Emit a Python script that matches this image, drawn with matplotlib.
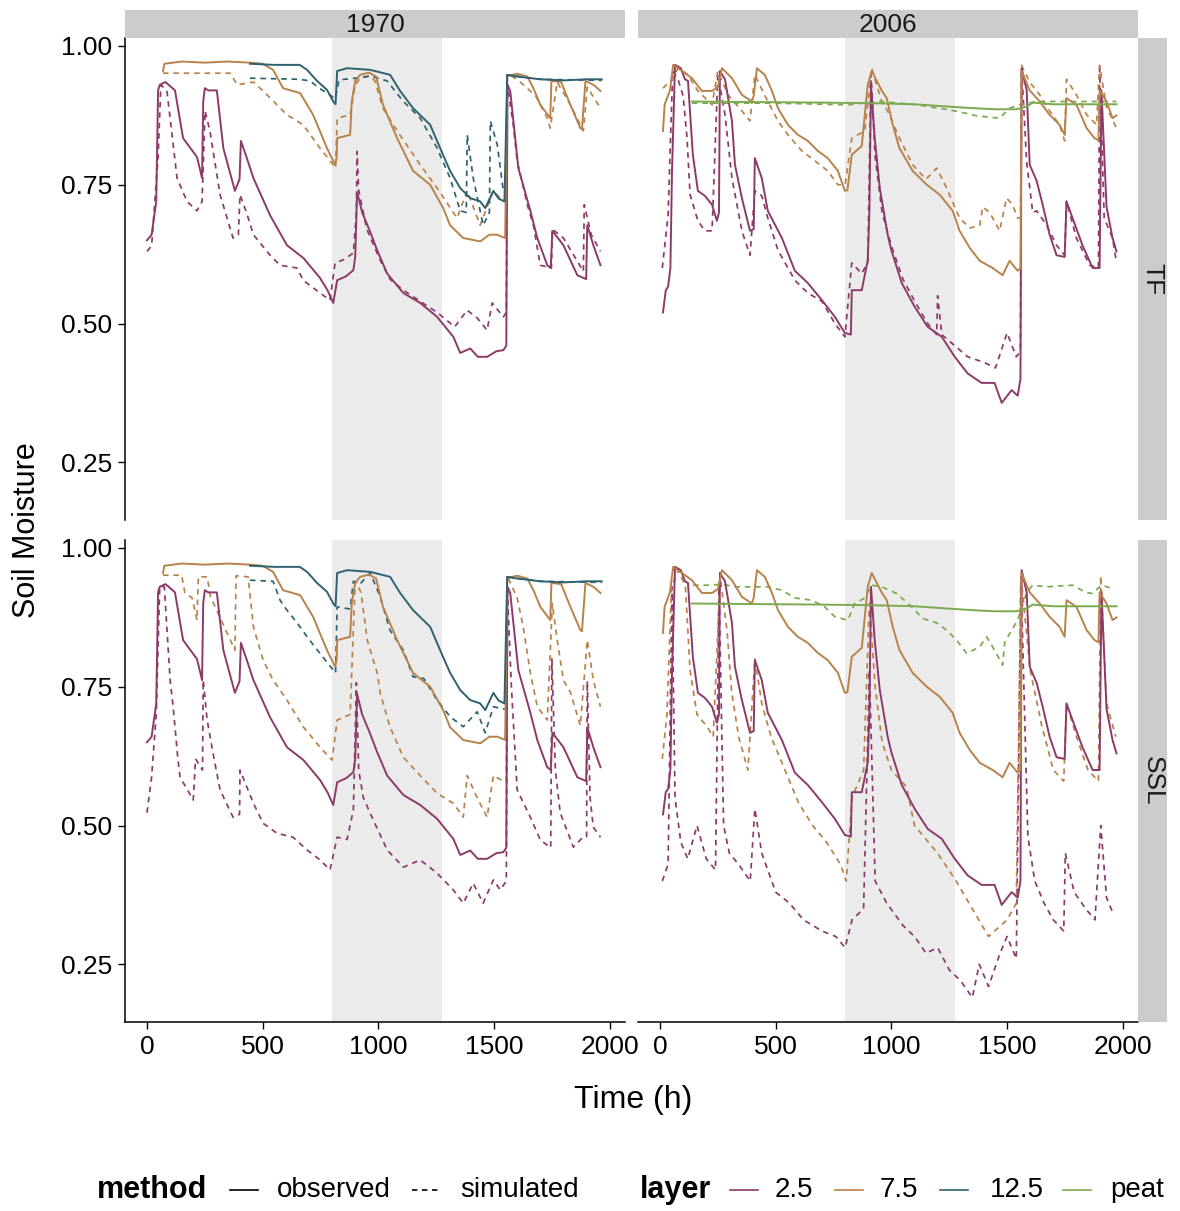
import matplotlib
matplotlib.use('Agg')
import matplotlib.pyplot as plt
from matplotlib.lines import Line2D

plt.rcParams['font.family'] = ['Liberation Sans', 'DejaVu Sans']

# ---- data: (hour, soil moisture) ----
years = ['1970', '2006']
sites = ['TF', 'SSL']
layers = ['2.5', '7.5', '12.5', 'peat']
xticks = [0, 500, 1000, 1500, 2000]
yticks = [0.25, 0.50, 0.75, 1.00]
ytick_labels = ['0.25', '0.50', '0.75', '1.00']
shade_period = (800, 1275)

# observed, 1970 (same in both sites)
obs70_25 = [(0, 0.65), (20, 0.66), (40, 0.72), (48, 0.92), (55, 0.93), (80, 0.935), (121, 0.92),
            (156, 0.834), (216, 0.80), (238, 0.762), (243, 0.90), (250, 0.924), (265, 0.92),
            (302, 0.92), (330, 0.816), (380, 0.739), (400, 0.76), (406, 0.829), (430, 0.80),
            (460, 0.762), (532, 0.695), (605, 0.641), (676, 0.618), (748, 0.582), (780, 0.56),
            (805, 0.537), (822, 0.578), (860, 0.585), (892, 0.596), (900, 0.62), (908, 0.737),
            (930, 0.70), (960, 0.67), (995, 0.632), (1038, 0.59), (1108, 0.555), (1181, 0.537),
            (1254, 0.512), (1324, 0.476), (1354, 0.447), (1397, 0.455), (1430, 0.44), (1470, 0.44),
            (1510, 0.45), (1540, 0.452), (1553, 0.46), (1558, 0.93), (1570, 0.919), (1605, 0.78),
            (1657, 0.703), (1687, 0.654), (1730, 0.605), (1745, 0.60), (1752, 0.667), (1800, 0.641),
            (1860, 0.587), (1898, 0.58), (1903, 0.677), (1930, 0.64), (1960, 0.605)]
obs70_75 = [(69, 0.955), (75, 0.968), (150, 0.972), (250, 0.970), (350, 0.972), (445, 0.970),
            (500, 0.968), (545, 0.957), (588, 0.924), (662, 0.915), (718, 0.876), (778, 0.816),
            (813, 0.786), (820, 0.80), (822, 0.834), (878, 0.84), (885, 0.90), (900, 0.937),
            (921, 0.948), (960, 0.952), (990, 0.945), (1020, 0.894), (1081, 0.834), (1150, 0.775),
            (1224, 0.75), (1280, 0.708), (1310, 0.677), (1367, 0.654), (1440, 0.648), (1480, 0.66),
            (1514, 0.66), (1548, 0.654), (1557, 0.946), (1600, 0.95), (1644, 0.945), (1670, 0.924),
            (1700, 0.894), (1743, 0.87), (1748, 0.937), (1790, 0.935), (1830, 0.894), (1873, 0.852),
            (1880, 0.85), (1895, 0.937), (1930, 0.93), (1960, 0.919)]
obs70_125 = [(445, 0.968), (550, 0.966), (660, 0.966), (692, 0.957), (735, 0.937), (778, 0.921),
             (805, 0.90), (815, 0.895), (822, 0.955), (865, 0.96), (965, 0.957), (1051, 0.948),
             (1094, 0.919), (1150, 0.888), (1224, 0.858), (1267, 0.816), (1310, 0.775), (1354, 0.744),
             (1397, 0.726), (1440, 0.72), (1462, 0.708), (1497, 0.739), (1520, 0.725), (1545, 0.72),
             (1557, 0.948), (1600, 0.945), (1700, 0.94), (1800, 0.938), (1900, 0.94), (1965, 0.94)]

# observed, 2006
obs06_25 = [(13, 0.52), (25, 0.56), (35, 0.566), (45, 0.60), (52, 0.775), (65, 0.966), (90, 0.96),
            (108, 0.94), (121, 0.937), (142, 0.804), (164, 0.739), (194, 0.73), (225, 0.714),
            (246, 0.685), (255, 0.70), (259, 0.955), (281, 0.94), (311, 0.865), (324, 0.786),
            (354, 0.726), (389, 0.667), (405, 0.67), (410, 0.798), (440, 0.762), (466, 0.703),
            (527, 0.654), (583, 0.595), (639, 0.573), (700, 0.542), (756, 0.512), (799, 0.483),
            (825, 0.48), (829, 0.56), (872, 0.56), (898, 0.614), (905, 0.70), (912, 0.93),
            (928, 0.834), (950, 0.744), (984, 0.66), (1000, 0.632), (1045, 0.573), (1101, 0.53),
            (1157, 0.494), (1218, 0.476), (1274, 0.44), (1330, 0.41), (1390, 0.393), (1446, 0.393),
            (1477, 0.357), (1520, 0.38), (1546, 0.37), (1558, 0.40), (1563, 0.96), (1585, 0.92),
            (1598, 0.786), (1628, 0.757), (1654, 0.714), (1684, 0.66), (1714, 0.623), (1749, 0.62),
            (1757, 0.72), (1783, 0.69), (1826, 0.641), (1870, 0.60), (1900, 0.60), (1908, 0.92),
            (1930, 0.71), (1956, 0.654), (1973, 0.63)]
obs06_75 = [(13, 0.847), (20, 0.894), (43, 0.92), (57, 0.966), (95, 0.955), (138, 0.942),
            (181, 0.919), (225, 0.919), (250, 0.926), (268, 0.96), (311, 0.942), (354, 0.912),
            (397, 0.90), (405, 0.91), (419, 0.96), (453, 0.948), (484, 0.919), (510, 0.888),
            (553, 0.858), (596, 0.84), (639, 0.829), (682, 0.811), (725, 0.798), (769, 0.775),
            (799, 0.739), (810, 0.74), (829, 0.804), (872, 0.82), (898, 0.93), (915, 0.955),
            (958, 0.92), (980, 0.906), (1006, 0.858), (1035, 0.816), (1092, 0.775), (1153, 0.75),
            (1209, 0.732), (1265, 0.703), (1295, 0.667), (1339, 0.636), (1382, 0.613), (1438, 0.60),
            (1481, 0.587), (1511, 0.613), (1546, 0.595), (1558, 0.60), (1563, 0.955), (1598, 0.92),
            (1641, 0.90), (1684, 0.876), (1727, 0.858), (1749, 0.84), (1757, 0.906), (1800, 0.894),
            (1844, 0.852), (1878, 0.834), (1895, 0.83), (1900, 0.92), (1930, 0.90), (1956, 0.87),
            (1973, 0.875)]
obs06_peat = [(138, 0.90), (400, 0.899), (700, 0.898), (907, 0.897), (1100, 0.895), (1239, 0.891),
              (1352, 0.888), (1450, 0.886), (1541, 0.886), (1585, 0.891), (1611, 0.898), (1700, 0.895),
              (1973, 0.895)]

# simulated, 1970 TF
sim70_tf_25 = [(0, 0.63), (20, 0.64), (48, 0.80), (60, 0.93), (86, 0.92), (100, 0.87), (130, 0.762),
               (173, 0.72), (216, 0.703), (238, 0.72), (251, 0.883), (272, 0.847), (316, 0.732),
               (372, 0.654), (395, 0.66), (402, 0.732), (430, 0.70), (460, 0.66), (532, 0.623),
               (575, 0.605), (649, 0.60), (675, 0.578), (748, 0.555), (791, 0.542), (813, 0.609),
               (850, 0.615), (892, 0.627), (905, 0.70), (908, 0.81), (915, 0.74), (950, 0.67),
               (1008, 0.614), (1050, 0.58), (1108, 0.56), (1181, 0.54), (1254, 0.52), (1330, 0.494),
               (1384, 0.524), (1427, 0.51), (1470, 0.488), (1492, 0.537), (1540, 0.512), (1553, 0.52),
               (1558, 0.93), (1583, 0.858), (1600, 0.793), (1644, 0.714), (1670, 0.677), (1700, 0.605),
               (1748, 0.60), (1752, 0.67), (1800, 0.654), (1886, 0.594), (1890, 0.714), (1920, 0.66),
               (1960, 0.63)]
sim70_tf_75 = [(69, 0.951), (200, 0.951), (360, 0.951), (390, 0.93), (460, 0.935), (502, 0.919),
               (562, 0.894), (605, 0.876), (675, 0.858), (748, 0.816), (805, 0.786), (815, 0.78),
               (822, 0.87), (878, 0.876), (900, 0.93), (921, 0.942), (965, 0.946), (985, 0.937),
               (1020, 0.888), (1081, 0.847), (1181, 0.786), (1254, 0.744), (1340, 0.69), (1384, 0.739),
               (1440, 0.677), (1497, 0.739), (1540, 0.72), (1553, 0.72), (1557, 0.95), (1600, 0.94),
               (1680, 0.91), (1730, 0.87), (1743, 0.852), (1773, 0.935), (1830, 0.894), (1886, 0.847),
               (1903, 0.926), (1960, 0.888)]
sim70_tf_125 = [(445, 0.942), (660, 0.94), (705, 0.937), (748, 0.923), (791, 0.912), (813, 0.904),
                (830, 0.939), (900, 0.942), (965, 0.946), (1038, 0.937), (1108, 0.90), (1181, 0.87),
                (1254, 0.816), (1310, 0.762), (1354, 0.703), (1380, 0.70), (1384, 0.84), (1410, 0.762),
                (1453, 0.677), (1480, 0.70), (1484, 0.865), (1514, 0.822), (1540, 0.739), (1553, 0.74),
                (1557, 0.948), (1700, 0.94), (1965, 0.938)]

# simulated, 1970 SSL
sim70_ssl_25 = [(0, 0.523), (20, 0.587), (40, 0.70), (55, 0.93), (75, 0.93), (100, 0.762),
                (113, 0.714), (134, 0.618), (143, 0.587), (200, 0.546), (210, 0.62), (240, 0.60),
                (243, 0.762), (260, 0.69), (290, 0.62), (316, 0.564), (372, 0.515), (400, 0.52),
                (402, 0.60), (460, 0.54), (502, 0.504), (562, 0.486), (631, 0.479), (692, 0.456),
                (748, 0.438), (791, 0.42), (822, 0.479), (865, 0.475), (892, 0.528), (905, 0.757),
                (915, 0.60), (935, 0.55), (978, 0.51), (1038, 0.456), (1108, 0.425), (1181, 0.438),
                (1254, 0.414), (1324, 0.384), (1367, 0.36), (1410, 0.396), (1453, 0.36), (1497, 0.402),
                (1527, 0.384), (1553, 0.40), (1558, 0.92), (1575, 0.75), (1600, 0.564), (1657, 0.515),
                (1700, 0.474), (1745, 0.46), (1750, 0.80), (1765, 0.60), (1786, 0.523), (1843, 0.461),
                (1886, 0.48), (1900, 0.48), (1903, 0.76), (1915, 0.55), (1929, 0.497), (1960, 0.479)]
sim70_ssl_75 = [(69, 0.951), (150, 0.951), (164, 0.919), (195, 0.91), (216, 0.87), (222, 0.948),
                (260, 0.948), (275, 0.912), (346, 0.847), (380, 0.816), (385, 0.95), (437, 0.948),
                (460, 0.858), (502, 0.798), (545, 0.762), (605, 0.726), (675, 0.678), (748, 0.641),
                (800, 0.618), (822, 0.69), (878, 0.70), (900, 0.94), (925, 0.92), (952, 0.834),
                (995, 0.775), (1008, 0.739), (1050, 0.678), (1108, 0.623), (1181, 0.59), (1254, 0.558),
                (1324, 0.54), (1367, 0.515), (1384, 0.59), (1427, 0.55), (1470, 0.515), (1497, 0.59),
                (1540, 0.58), (1553, 0.58), (1557, 0.95), (1600, 0.91), (1626, 0.858), (1657, 0.775),
                (1687, 0.714), (1730, 0.69), (1752, 0.90), (1773, 0.834), (1800, 0.762), (1830, 0.74),
                (1873, 0.68), (1903, 0.834), (1929, 0.762), (1960, 0.714)]
sim70_ssl_125 = [(445, 0.942), (545, 0.94), (575, 0.906), (605, 0.888), (649, 0.865), (692, 0.84),
                 (748, 0.81), (805, 0.78), (815, 0.775), (822, 0.894), (878, 0.89), (892, 0.94),
                 (920, 0.935), (965, 0.955), (1008, 0.912), (1050, 0.852), (1108, 0.816), (1150, 0.768),
                 (1196, 0.765), (1254, 0.726), (1310, 0.696), (1367, 0.678), (1427, 0.705), (1462, 0.667),
                 (1497, 0.714), (1540, 0.71), (1553, 0.71), (1557, 0.948), (1700, 0.94), (1965, 0.938)]

# simulated, 2006 TF
sim06_tf_25 = [(10, 0.60), (35, 0.695), (55, 0.955), (78, 0.94), (100, 0.91), (117, 0.834),
               (130, 0.732), (164, 0.685), (194, 0.667), (225, 0.667), (250, 0.948), (281, 0.876),
               (311, 0.762), (354, 0.667), (389, 0.623), (410, 0.739), (440, 0.73), (466, 0.69),
               (510, 0.632), (583, 0.578), (639, 0.555), (700, 0.54), (756, 0.50), (799, 0.476),
               (829, 0.609), (872, 0.59), (898, 0.61), (912, 0.95), (930, 0.80), (960, 0.70),
               (1000, 0.64), (1050, 0.58), (1101, 0.54), (1157, 0.50), (1196, 0.48), (1200, 0.55),
               (1218, 0.48), (1274, 0.46), (1330, 0.44), (1400, 0.43), (1450, 0.42), (1500, 0.483),
               (1540, 0.44), (1558, 0.45), (1563, 0.96), (1585, 0.79), (1611, 0.70), (1628, 0.703),
               (1671, 0.677), (1714, 0.641), (1749, 0.623), (1757, 0.72), (1800, 0.654), (1857, 0.605),
               (1895, 0.60), (1900, 0.96), (1920, 0.69), (1956, 0.654), (1973, 0.61)]
sim06_tf_75 = [(13, 0.924), (52, 0.94), (78, 0.96), (121, 0.948), (164, 0.919), (225, 0.894),
               (250, 0.955), (294, 0.912), (354, 0.883), (389, 0.865), (410, 0.948), (466, 0.90),
               (510, 0.865), (553, 0.84), (613, 0.811), (670, 0.793), (725, 0.775), (769, 0.75),
               (800, 0.75), (829, 0.834), (885, 0.847), (915, 0.96), (958, 0.90), (984, 0.883),
               (1035, 0.834), (1092, 0.786), (1150, 0.76), (1196, 0.78), (1239, 0.744), (1295, 0.69),
               (1339, 0.672), (1382, 0.677), (1395, 0.71), (1425, 0.70), (1468, 0.667), (1498, 0.726),
               (1524, 0.714), (1546, 0.69), (1558, 0.69), (1563, 0.965), (1598, 0.935), (1641, 0.912),
               (1684, 0.883), (1727, 0.858), (1749, 0.829), (1757, 0.94), (1800, 0.912), (1844, 0.876),
               (1887, 0.858), (1900, 0.965), (1930, 0.89), (1973, 0.852)]
sim06_tf_peat = [(138, 0.897), (500, 0.897), (812, 0.894), (950, 0.90), (1092, 0.895), (1239, 0.886),
                 (1308, 0.88), (1369, 0.874), (1468, 0.87), (1511, 0.888), (1555, 0.894), (1628, 0.90),
                 (1973, 0.90)]

# simulated, 2006 SSL
sim06_ssl_25 = [(10, 0.40), (35, 0.43), (52, 0.93), (65, 0.55), (90, 0.47), (120, 0.44), (160, 0.50),
                (200, 0.44), (240, 0.42), (255, 0.93), (275, 0.50), (300, 0.45), (340, 0.43),
                (390, 0.40), (410, 0.53), (440, 0.45), (500, 0.38), (560, 0.36), (620, 0.33),
                (700, 0.31), (760, 0.30), (800, 0.28), (830, 0.33), (880, 0.35), (905, 0.78),
                (930, 0.40), (980, 0.36), (1050, 0.32), (1100, 0.30), (1150, 0.27), (1200, 0.28),
                (1250, 0.24), (1300, 0.22), (1350, 0.19), (1380, 0.25), (1420, 0.21), (1470, 0.27),
                (1500, 0.30), (1540, 0.26), (1560, 0.95), (1590, 0.48), (1620, 0.40), (1660, 0.36),
                (1700, 0.33), (1745, 0.31), (1752, 0.45), (1790, 0.38), (1840, 0.35), (1880, 0.33),
                (1905, 0.50), (1930, 0.37), (1960, 0.34)]
sim06_ssl_75 = [(10, 0.62), (30, 0.70), (50, 0.93), (80, 0.96), (110, 0.93), (130, 0.78), (160, 0.70),
                (200, 0.68), (230, 0.66), (245, 0.80), (260, 0.95), (290, 0.85), (310, 0.74),
                (340, 0.66), (380, 0.60), (410, 0.80), (440, 0.72), (480, 0.66), (540, 0.60),
                (600, 0.54), (660, 0.50), (720, 0.47), (780, 0.43), (805, 0.40), (830, 0.55),
                (880, 0.60), (905, 0.90), (930, 0.75), (960, 0.65), (1000, 0.60), (1065, 0.57),
                (1100, 0.50), (1200, 0.45), (1280, 0.40), (1350, 0.35), (1420, 0.30), (1500, 0.33),
                (1540, 0.36), (1560, 0.95), (1600, 0.78), (1650, 0.68), (1700, 0.60), (1745, 0.58),
                (1757, 0.72), (1800, 0.66), (1850, 0.60), (1895, 0.58), (1905, 0.95), (1930, 0.72),
                (1970, 0.66)]
sim06_ssl_peat = [(143, 0.933), (225, 0.933), (268, 0.935), (324, 0.93), (397, 0.93), (466, 0.93),
                  (527, 0.924), (583, 0.91), (656, 0.906), (712, 0.894), (756, 0.876), (812, 0.87),
                  (842, 0.90), (885, 0.91), (915, 0.933), (958, 0.93), (1023, 0.918), (1080, 0.897),
                  (1136, 0.873), (1196, 0.865), (1239, 0.852), (1282, 0.834), (1326, 0.81),
                  (1382, 0.822), (1412, 0.84), (1446, 0.816), (1481, 0.789), (1490, 0.83),
                  (1520, 0.852), (1546, 0.87), (1585, 0.92), (1611, 0.933), (1671, 0.93),
                  (1783, 0.933), (1840, 0.92), (1870, 0.918), (1908, 0.933), (1956, 0.927)]

observed = {
    '1970': {'2.5': obs70_25, '7.5': obs70_75, '12.5': obs70_125},
    '2006': {'2.5': obs06_25, '7.5': obs06_75, 'peat': obs06_peat},
}
simulated = {
    ('TF', '1970'): {'2.5': sim70_tf_25, '7.5': sim70_tf_75, '12.5': sim70_tf_125},
    ('SSL', '1970'): {'2.5': sim70_ssl_25, '7.5': sim70_ssl_75, '12.5': sim70_ssl_125},
    ('TF', '2006'): {'2.5': sim06_tf_25, '7.5': sim06_tf_75, 'peat': sim06_tf_peat},
    ('SSL', '2006'): {'2.5': sim06_ssl_25, '7.5': sim06_ssl_75, 'peat': sim06_ssl_peat},
}

colors = {'2.5': '#8C3A69', '7.5': '#B8824A', '12.5': '#2E6270', 'peat': '#7BAA4E'}
dash = (0, (3.2, 2.8))

# ---- layout in pixels ----
W, H = 1180, 1211
col_x = [(125, 625), (638, 1138)]
row_y = [(38, 520), (540, 1022)]


def px_rect(x0, y0, x1, y1):
    return [x0 / W, 1 - y1 / H, (x1 - x0) / W, (y1 - y0) / H]


def fx(x):
    return x / W


def fy(y):
    return 1 - y / H


fig = plt.figure(figsize=(W / 100, H / 100), dpi=100)

for r, site in enumerate(sites):
    for c, year in enumerate(years):
        ax = fig.add_axes(px_rect(col_x[c][0], row_y[r][0], col_x[c][1], row_y[r][1]))
        ax.axvspan(*shade_period, color='#EBEBEB', lw=0, zorder=0)

        # simulated first, observed on top
        for layer in layers:
            pts = simulated[(site, year)].get(layer)
            if pts:
                ax.plot([p[0] for p in pts], [p[1] for p in pts], color=colors[layer],
                        lw=1.25, linestyle=dash, zorder=2)
        for layer in layers:
            pts = observed[year].get(layer)
            if pts:
                ax.plot([p[0] for p in pts], [p[1] for p in pts], color=colors[layer],
                        lw=1.4, zorder=3)

        ax.set_xlim(-95, 2066)
        ax.set_ylim(0.146, 1.0144)
        ax.set_xticks(xticks)
        ax.set_xticklabels([str(t) for t in xticks])
        ax.set_yticks(yticks)
        ax.set_yticklabels(ytick_labels)
        ax.tick_params(labelsize=19, length=5, width=1.0, pad=4, colors='black')
        ax.spines['top'].set_visible(False)
        ax.spines['right'].set_visible(False)
        ax.spines['left'].set_linewidth(1.1)
        ax.spines['bottom'].set_linewidth(1.1)
        if c == 1:
            ax.spines['left'].set_visible(False)
            ax.tick_params(left=False, labelleft=False)
        if r == 0:
            ax.spines['bottom'].set_visible(False)
            ax.tick_params(bottom=False, labelbottom=False)

# strips
for c, year in enumerate(years):
    sax = fig.add_axes(px_rect(col_x[c][0], 10, col_x[c][1], 38))
    sax.set_facecolor('#CCCCCC')
    sax.set_xticks([])
    sax.set_yticks([])
    for s in sax.spines.values():
        s.set_visible(False)
    sax.text(0.5, 0.45, year, ha='center', va='center', fontsize=19, color='#1A1A1A',
             transform=sax.transAxes)

for r, site in enumerate(sites):
    sax = fig.add_axes(px_rect(1138, row_y[r][0], 1167, row_y[r][1]))
    sax.set_facecolor('#CCCCCC')
    sax.set_xticks([])
    sax.set_yticks([])
    for s in sax.spines.values():
        s.set_visible(False)
    sax.text(0.5, 0.5, site, ha='center', va='center', fontsize=19, rotation=-90,
             color='#1A1A1A', transform=sax.transAxes)

# axis titles
fig.text(fx(633), fy(1100), 'Time (h)', ha='center', va='center', fontsize=23)
fig.text(fx(27), fy(530), 'Soil Moisture', ha='center', va='center', fontsize=22,
         rotation=90)

# legend, drawn by hand along the bottom
ly = fy(1190)
fig.text(fx(97), ly, 'method', ha='left', va='center', fontsize=22, fontweight='bold')
fig.add_artist(Line2D([fx(230), fx(258)], [ly, ly], color='black', lw=1.2,
                      transform=fig.transFigure))
fig.text(fx(277), ly, 'observed', ha='left', va='center', fontsize=20)
fig.add_artist(Line2D([fx(412), fx(440)], [ly, ly], color='black', lw=1.2, linestyle=dash,
                      transform=fig.transFigure))
fig.text(fx(460), ly, 'simulated', ha='left', va='center', fontsize=20)

fig.text(fx(640), ly, 'layer', ha='left', va='center', fontsize=22, fontweight='bold')
key_x = [730, 835, 940, 1063]
label_x = [775, 880, 990, 1110]
for layer, kx, tx in zip(layers, key_x, label_x):
    fig.add_artist(Line2D([fx(kx), fx(kx + 28)], [ly, ly], color=colors[layer], lw=1.2,
                          transform=fig.transFigure))
    fig.text(fx(tx), ly, layer, ha='left', va='center', fontsize=20)

fig.savefig('out.png', dpi=100, facecolor='white')
